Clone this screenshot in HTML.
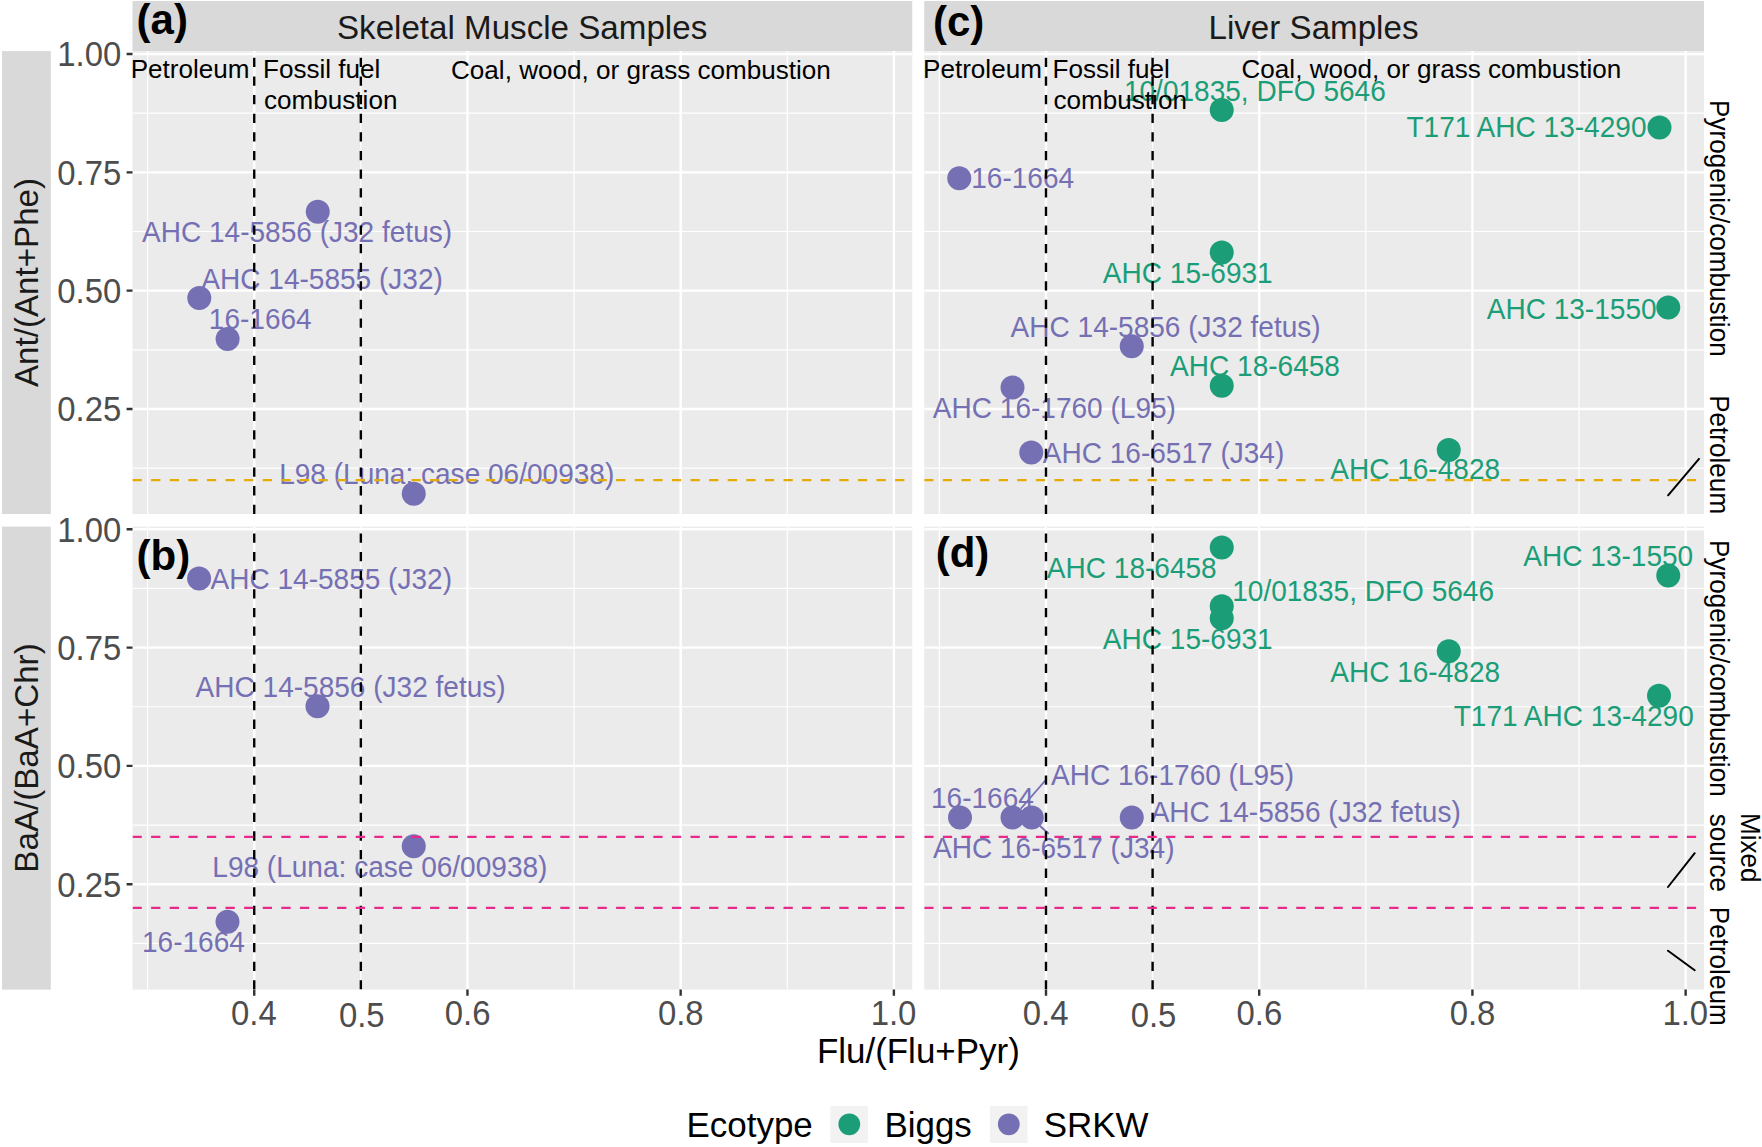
<!DOCTYPE html>
<html lang="en"><head><meta charset="utf-8"><title>PAH diagnostic ratios</title>
<style>html,body{margin:0;padding:0;background:#fff}svg{display:block}text{white-space:pre}</style></head>
<body>
<svg width="1762" height="1147" viewBox="0 0 1762 1147" font-family='"Liberation Sans", sans-serif'>
<rect width="1762" height="1147" fill="#fff"/>
<g fill="#D9D9D9">
<rect x="132.5" y="1" width="779.75" height="50.1"/>
<rect x="924.25" y="1" width="779.75" height="50.1"/>
<rect x="2" y="51.1" width="48.8" height="462.9"/>
<rect x="2" y="526.6" width="48.8" height="463"/>
</g>
<clipPath id="cp00"><rect x="132.5" y="51.1" width="779.75" height="462.9"/></clipPath>
<rect x="132.5" y="51.1" width="779.75" height="462.9" fill="#EBEBEB"/>
<g clip-path="url(#cp00)">
<path d="M132.5 468.16H912.25M132.5 349.83H912.25M132.5 231.5H912.25M132.5 113.17H912.25M147.63 51.1V514M360.85 51.1V514M574.06 51.1V514M787.27 51.1V514" stroke="#fff" stroke-width="1.2" fill="none"/>
<path d="M132.5 409H912.25M132.5 290.66H912.25M132.5 172.33H912.25M132.5 54H912.25M254.24 51.1V514M467.45 51.1V514M680.67 51.1V514M893.88 51.1V514" stroke="#fff" stroke-width="2.4" fill="none"/>
</g>
<g clip-path="url(#cp00)">
<circle cx="317.75" cy="211.8" r="12" fill="#7570B3"/>
<circle cx="199.3" cy="297.9" r="12" fill="#7570B3"/>
<circle cx="227.6" cy="338.9" r="12" fill="#7570B3"/>
<circle cx="413.75" cy="493.75" r="12" fill="#7570B3"/>
<text transform="translate(142.01 241.9) scale(1 1.045)" font-size="28.05" fill="#7570B3">AHC 14-5856 (J32 fetus)</text>
<text transform="translate(201.35 288.6) scale(1 1.045)" font-size="28.05" fill="#7570B3">AHC 14-5855 (J32)</text>
<text transform="translate(208.83 329.35) scale(1 1.045)" font-size="28.05" fill="#7570B3">16-1664</text>
<text transform="translate(279.16 484.35) scale(1 1.045)" font-size="28.05" fill="#7570B3">L98 (Luna: case 06/00938)</text>
<line x1="254.24" x2="254.24" y1="514" y2="51.1" stroke="#000" stroke-width="2.4" stroke-dasharray="9.31 9.31"/>
<line x1="360.85" x2="360.85" y1="514" y2="51.1" stroke="#000" stroke-width="2.4" stroke-dasharray="9.31 9.31"/>
<line x1="132.5" x2="912.25" y1="480.2" y2="480.2" stroke="#E6AB02" stroke-width="2.3" stroke-dasharray="9.3 9.3"/>
</g>
<clipPath id="cp01"><rect x="132.5" y="526.6" width="779.75" height="463"/></clipPath>
<rect x="132.5" y="526.6" width="779.75" height="463" fill="#EBEBEB"/>
<g clip-path="url(#cp01)">
<path d="M132.5 943.41H912.25M132.5 825.08H912.25M132.5 706.75H912.25M132.5 588.42H912.25M147.63 526.6V989.6M360.85 526.6V989.6M574.06 526.6V989.6M787.27 526.6V989.6" stroke="#fff" stroke-width="1.2" fill="none"/>
<path d="M132.5 884.25H912.25M132.5 765.91H912.25M132.5 647.58H912.25M132.5 529.25H912.25M254.24 526.6V989.6M467.45 526.6V989.6M680.67 526.6V989.6M893.88 526.6V989.6" stroke="#fff" stroke-width="2.4" fill="none"/>
</g>
<g clip-path="url(#cp01)">
<circle cx="199.1" cy="578.6" r="12" fill="#7570B3"/>
<circle cx="317.5" cy="706.25" r="12" fill="#7570B3"/>
<circle cx="413.75" cy="846.25" r="12" fill="#7570B3"/>
<circle cx="227.5" cy="921.75" r="12" fill="#7570B3"/>
<text transform="translate(210.47 589.1) scale(1 1.045)" font-size="28.05" fill="#7570B3">AHC 14-5855 (J32)</text>
<text transform="translate(195.56 696.85) scale(1 1.045)" font-size="28.05" fill="#7570B3">AHC 14-5856 (J32 fetus)</text>
<text transform="translate(212.29 876.85) scale(1 1.045)" font-size="28.05" fill="#7570B3">L98 (Luna: case 06/00938)</text>
<text transform="translate(141.95 951.85) scale(1 1.045)" font-size="28.05" fill="#7570B3">16-1664</text>
<line x1="254.24" x2="254.24" y1="989.6" y2="526.6" stroke="#000" stroke-width="2.4" stroke-dasharray="9.31 9.31"/>
<line x1="360.85" x2="360.85" y1="989.6" y2="526.6" stroke="#000" stroke-width="2.4" stroke-dasharray="9.31 9.31"/>
<line x1="132.5" x2="912.25" y1="836.91" y2="836.91" stroke="#E7298A" stroke-width="2.3" stroke-dasharray="9.3 9.3"/>
<line x1="132.5" x2="912.25" y1="907.91" y2="907.91" stroke="#E7298A" stroke-width="2.3" stroke-dasharray="9.3 9.3"/>
</g>
<clipPath id="cp10"><rect x="924.25" y="51.1" width="779.75" height="462.9"/></clipPath>
<rect x="924.25" y="51.1" width="779.75" height="462.9" fill="#EBEBEB"/>
<g clip-path="url(#cp10)">
<path d="M924.25 468.16H1704M924.25 349.83H1704M924.25 231.5H1704M924.25 113.17H1704M939.38 51.1V514M1152.6 51.1V514M1365.81 51.1V514M1579.03 51.1V514" stroke="#fff" stroke-width="1.2" fill="none"/>
<path d="M924.25 409H1704M924.25 290.66H1704M924.25 172.33H1704M924.25 54H1704M1045.99 51.1V514M1259.2 51.1V514M1472.42 51.1V514M1685.63 51.1V514" stroke="#fff" stroke-width="2.4" fill="none"/>
</g>
<g clip-path="url(#cp10)">
<circle cx="1221.75" cy="110" r="12" fill="#1B9E77"/>
<circle cx="1659.5" cy="127.5" r="12" fill="#1B9E77"/>
<circle cx="1221.75" cy="252.5" r="12" fill="#1B9E77"/>
<circle cx="1668.25" cy="307.5" r="12" fill="#1B9E77"/>
<circle cx="1221.75" cy="385.75" r="12" fill="#1B9E77"/>
<circle cx="1448.75" cy="450" r="12" fill="#1B9E77"/>
<circle cx="959.25" cy="178.25" r="12" fill="#7570B3"/>
<circle cx="1131.75" cy="346.25" r="12" fill="#7570B3"/>
<circle cx="1012.5" cy="387.5" r="12" fill="#7570B3"/>
<circle cx="1031.25" cy="452.5" r="12" fill="#7570B3"/>
<text transform="translate(1123.94 100.6) scale(1 1.045)" font-size="28.05" fill="#1B9E77">10/01835, DFO 5646</text>
<text transform="translate(1406.47 137.35) scale(1 1.045)" font-size="28.05" fill="#1B9E77">T171 AHC 13-4290</text>
<text transform="translate(1102.83 282.6) scale(1 1.045)" font-size="28.05" fill="#1B9E77">AHC 15-6931</text>
<text transform="translate(1486.71 318.6) scale(1 1.045)" font-size="28.05" fill="#1B9E77">AHC 13-1550</text>
<text transform="translate(1170.08 376.35) scale(1 1.045)" font-size="28.05" fill="#1B9E77">AHC 18-6458</text>
<text transform="translate(1330.21 479.35) scale(1 1.045)" font-size="28.05" fill="#1B9E77">AHC 16-4828</text>
<text transform="translate(971.21 188.1) scale(1 1.045)" font-size="28.05" fill="#7570B3">16-1664</text>
<text transform="translate(1010.56 336.85) scale(1 1.045)" font-size="28.05" fill="#7570B3">AHC 14-5856 (J32 fetus)</text>
<text transform="translate(932.82 418.1) scale(1 1.045)" font-size="28.05" fill="#7570B3">AHC 16-1760 (L95)</text>
<text transform="translate(1042.73 462.6) scale(1 1.045)" font-size="28.05" fill="#7570B3">AHC 16-6517 (J34)</text>
<line x1="1045.99" x2="1045.99" y1="514" y2="51.1" stroke="#000" stroke-width="2.4" stroke-dasharray="9.31 9.31"/>
<line x1="1152.6" x2="1152.6" y1="514" y2="51.1" stroke="#000" stroke-width="2.4" stroke-dasharray="9.31 9.31"/>
<line x1="924.25" x2="1704" y1="480.2" y2="480.2" stroke="#E6AB02" stroke-width="2.3" stroke-dasharray="9.3 9.3"/>
</g>
<clipPath id="cp11"><rect x="924.25" y="526.6" width="779.75" height="463"/></clipPath>
<rect x="924.25" y="526.6" width="779.75" height="463" fill="#EBEBEB"/>
<g clip-path="url(#cp11)">
<path d="M924.25 943.41H1704M924.25 825.08H1704M924.25 706.75H1704M924.25 588.42H1704M939.38 526.6V989.6M1152.6 526.6V989.6M1365.81 526.6V989.6M1579.03 526.6V989.6" stroke="#fff" stroke-width="1.2" fill="none"/>
<path d="M924.25 884.25H1704M924.25 765.91H1704M924.25 647.58H1704M924.25 529.25H1704M1045.99 526.6V989.6M1259.2 526.6V989.6M1472.42 526.6V989.6M1685.63 526.6V989.6" stroke="#fff" stroke-width="2.4" fill="none"/>
</g>
<g clip-path="url(#cp11)">
<circle cx="1221.75" cy="547.5" r="12" fill="#1B9E77"/>
<circle cx="1221.75" cy="606.25" r="12" fill="#1B9E77"/>
<circle cx="1221.75" cy="618.25" r="12" fill="#1B9E77"/>
<circle cx="1668.25" cy="575.5" r="12" fill="#1B9E77"/>
<circle cx="1448.75" cy="651.25" r="12" fill="#1B9E77"/>
<circle cx="1659" cy="695.75" r="12" fill="#1B9E77"/>
<circle cx="960" cy="817.5" r="12" fill="#7570B3"/>
<circle cx="1012.5" cy="817.5" r="12" fill="#7570B3"/>
<circle cx="1031.75" cy="817.5" r="12" fill="#7570B3"/>
<circle cx="1131.75" cy="817.5" r="12" fill="#7570B3"/>
<path d="M1045.75 780L1020.75 808.75M1040 826L1048.75 833.75" stroke="#7570B3" stroke-width="1.9" fill="none"/>
<text transform="translate(1046.83 577.6) scale(1 1.045)" font-size="28.05" fill="#1B9E77">AHC 18-6458</text>
<text transform="translate(1523.33 566.35) scale(1 1.045)" font-size="28.05" fill="#1B9E77">AHC 13-1550</text>
<text transform="translate(1232.2 600.85) scale(1 1.045)" font-size="28.05" fill="#1B9E77">10/01835, DFO 5646</text>
<text transform="translate(1102.83 648.6) scale(1 1.045)" font-size="28.05" fill="#1B9E77">AHC 15-6931</text>
<text transform="translate(1330.21 681.85) scale(1 1.045)" font-size="28.05" fill="#1B9E77">AHC 16-4828</text>
<text transform="translate(1453.72 726.1) scale(1 1.045)" font-size="28.05" fill="#1B9E77">T171 AHC 13-4290</text>
<text transform="translate(1050.95 785.35) scale(1 1.045)" font-size="28.05" fill="#7570B3">AHC 16-1760 (L95)</text>
<text transform="translate(930.95 808.1) scale(1 1.045)" font-size="28.05" fill="#7570B3">16-1664</text>
<text transform="translate(1150.66 821.85) scale(1 1.045)" font-size="28.05" fill="#7570B3">AHC 14-5856 (J32 fetus)</text>
<text transform="translate(932.97 857.6) scale(1 1.045)" font-size="28.05" fill="#7570B3">AHC 16-6517 (J34)</text>
<line x1="1045.99" x2="1045.99" y1="989.6" y2="526.6" stroke="#000" stroke-width="2.4" stroke-dasharray="9.31 9.31"/>
<line x1="1152.6" x2="1152.6" y1="989.6" y2="526.6" stroke="#000" stroke-width="2.4" stroke-dasharray="9.31 9.31"/>
<line x1="924.25" x2="1704" y1="836.91" y2="836.91" stroke="#E7298A" stroke-width="2.3" stroke-dasharray="9.3 9.3"/>
<line x1="924.25" x2="1704" y1="907.91" y2="907.91" stroke="#E7298A" stroke-width="2.3" stroke-dasharray="9.3 9.3"/>
</g>
<path d="M1668.1 495.3L1699 458.9M1668 887L1694.7 853.2M1668 950.7L1694.7 970.2" stroke="#000" stroke-width="2" stroke-linecap="round" fill="none"/>
<path d="M126.6 409H132.5M126.6 290.66H132.5M126.6 172.33H132.5M126.6 54H132.5M126.6 884.25H132.5M126.6 765.91H132.5M126.6 647.58H132.5M126.6 529.25H132.5M254.24 989.6V995.8M467.45 989.6V995.8M680.67 989.6V995.8M893.88 989.6V995.8M1045.99 989.6V995.8M1259.2 989.6V995.8M1472.42 989.6V995.8M1685.63 989.6V995.8" stroke="#333" stroke-width="2.4" fill="none"/>
<rect x="830.4" y="1105.9" width="37.5" height="37" fill="#F2F2F2"/><rect x="990" y="1105.9" width="37.5" height="37" fill="#F2F2F2"/>
<circle cx="849.3" cy="1124.3" r="10.9" fill="#1B9E77"/><circle cx="1008.8" cy="1124.3" r="10.9" fill="#7570B3"/>
<text x="136.6" y="34.1" font-size="42" fill="#000" font-weight="700">(a)</text>
<text x="933" y="35.7" font-size="42" fill="#000" font-weight="700">(c)</text>
<text x="136.6" y="570.4" font-size="42" fill="#000" font-weight="700">(b)</text>
<text x="935.7" y="567.2" font-size="42" fill="#000" font-weight="700">(d)</text>
<text x="336.97" y="38.5" font-size="33.15" fill="#1A1A1A">Skeletal Muscle Samples</text>
<text x="1208.5" y="38.5" font-size="33.15" fill="#1A1A1A">Liver Samples</text>
<text transform="translate(130.7 78.3) scale(1 1.015)" font-size="26.1" fill="#000">Petroleum</text>
<text transform="translate(263 78.3) scale(1 1.015)" font-size="26.1" fill="#000">Fossil fuel</text>
<text transform="translate(264 109.1) scale(1 1.015)" font-size="26.1" fill="#000">combustion</text>
<text transform="translate(451 79.3) scale(1 1.015)" font-size="26.1" fill="#000">Coal, wood, or grass combustion</text>
<text transform="translate(923 78.3) scale(1 1.015)" font-size="26.1" fill="#000">Petroleum</text>
<text transform="translate(1052.5 78.3) scale(1 1.015)" font-size="26.1" fill="#000">Fossil fuel</text>
<text transform="translate(1053.5 109.1) scale(1 1.015)" font-size="26.1" fill="#000">combustion</text>
<text transform="translate(1241.5 78) scale(1 1.015)" font-size="26.1" fill="#000">Coal, wood, or grass combustion</text>
<text transform="translate(57.28 66.4) scale(1 1.045)" font-size="32.9" fill="#4D4D4D">1.00</text>
<text transform="translate(57.28 184.73) scale(1 1.045)" font-size="32.9" fill="#4D4D4D">0.75</text>
<text transform="translate(57.28 303.06) scale(1 1.045)" font-size="32.9" fill="#4D4D4D">0.50</text>
<text transform="translate(57.28 421.4) scale(1 1.045)" font-size="32.9" fill="#4D4D4D">0.25</text>
<text transform="translate(57.28 541.65) scale(1 1.045)" font-size="32.9" fill="#4D4D4D">1.00</text>
<text transform="translate(57.28 659.98) scale(1 1.045)" font-size="32.9" fill="#4D4D4D">0.75</text>
<text transform="translate(57.28 778.31) scale(1 1.045)" font-size="32.9" fill="#4D4D4D">0.50</text>
<text transform="translate(57.28 896.65) scale(1 1.045)" font-size="32.9" fill="#4D4D4D">0.25</text>
<text transform="translate(231.02 1025.3) scale(1 1.045)" font-size="32.9" fill="#4D4D4D">0.4</text>
<text transform="translate(444.74 1025.3) scale(1 1.045)" font-size="32.9" fill="#4D4D4D">0.6</text>
<text transform="translate(657.95 1025.3) scale(1 1.045)" font-size="32.9" fill="#4D4D4D">0.8</text>
<text transform="translate(870.67 1025.3) scale(1 1.045)" font-size="32.9" fill="#4D4D4D">1.0</text>
<text transform="translate(338.93 1026.7) scale(1 1.045)" font-size="32.9" fill="#4D4D4D">0.5</text>
<text transform="translate(1022.77 1025.3) scale(1 1.045)" font-size="32.9" fill="#4D4D4D">0.4</text>
<text transform="translate(1236.49 1025.3) scale(1 1.045)" font-size="32.9" fill="#4D4D4D">0.6</text>
<text transform="translate(1449.7 1025.3) scale(1 1.045)" font-size="32.9" fill="#4D4D4D">0.8</text>
<text transform="translate(1662.42 1025.3) scale(1 1.045)" font-size="32.9" fill="#4D4D4D">1.0</text>
<text transform="translate(1130.68 1026.7) scale(1 1.045)" font-size="32.9" fill="#4D4D4D">0.5</text>
<text transform="translate(816.89 1063.2) scale(1 1.03)" font-size="34.95" fill="#000">Flu/(Flu+Pyr)</text>
<text transform="translate(686.5 1137.2) scale(1 1.03)" font-size="34.95" fill="#000">Ecotype</text>
<text transform="translate(884.44 1137.2) scale(1 1.03)" font-size="34.95" fill="#000">Biggs</text>
<text transform="translate(1043.78 1137.2) scale(1 1.03)" font-size="34.95" fill="#000">SRKW</text>
<text transform="translate(38.4 387.03) rotate(-90)" font-size="33.15" fill="#1A1A1A">Ant/(Ant+Phe)</text>
<text transform="translate(38.4 872.64) rotate(-90)" font-size="33.15" fill="#1A1A1A">BaA/(BaA+Chr)</text>
<text transform="translate(1709.7 100) rotate(90) scale(1 1.03)" font-size="26.1" fill="#000">Pyrogenic/combustion</text>
<text transform="translate(1709.7 395.2) rotate(90) scale(1 1.03)" font-size="26.1" fill="#000">Petroleum</text>
<text transform="translate(1709.7 540) rotate(90) scale(1 1.03)" font-size="26.1" fill="#000">Pyrogenic/combustion</text>
<text transform="translate(1709.7 813.75) rotate(90) scale(1 1.03)" font-size="26.1" fill="#000">source</text>
<text transform="translate(1741.25 813) rotate(90) scale(1 1.03)" font-size="26.1" fill="#000">Mixed</text>
<text transform="translate(1709.7 906.75) rotate(90) scale(1 1.03)" font-size="26.1" fill="#000">Petroleum</text>
</svg>
</body></html>
